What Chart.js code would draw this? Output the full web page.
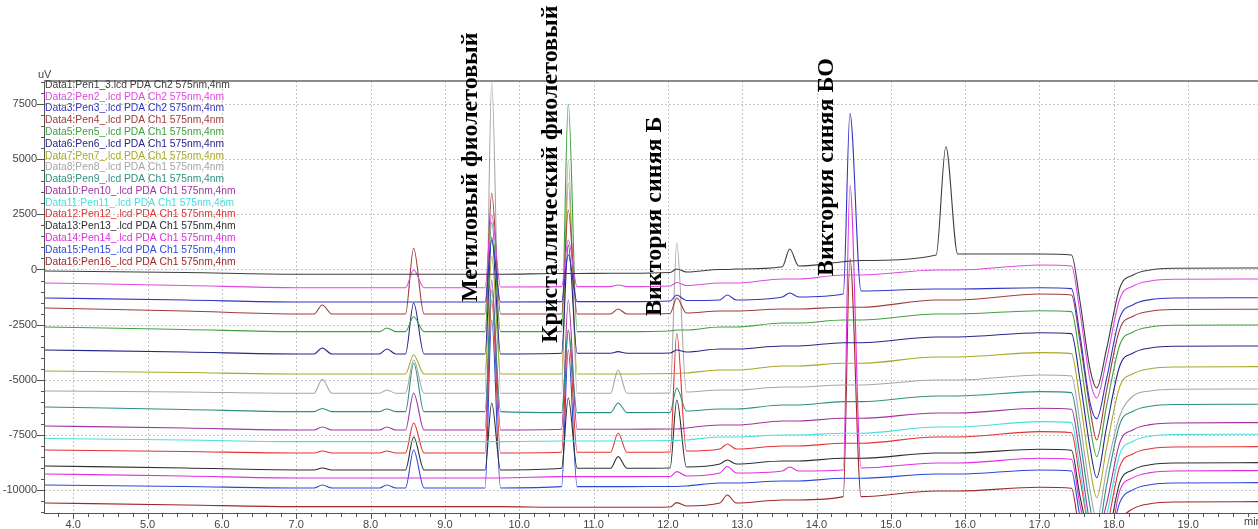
<!DOCTYPE html>
<html><head><meta charset="utf-8">
<script src="https://cdn.jsdelivr.net/npm/chart.js@4.4.0/dist/chart.umd.min.js"></script>
<style>html,body{margin:0;padding:0;background:#fff;overflow:hidden}canvas{display:block}</style>
</head><body>
<canvas id="c" width="1258" height="529"></canvas>
<script>
// retention time grid (min)
const times = [3.62,5.5,7.0,7.24,7.35,7.48,8.12,8.22,8.34,8.47,8.58,8.72,9.54,9.63,9.75,10.57,10.66,10.78,11.23,11.33,11.45,12.03,12.12,12.25,12.7,12.8,12.92,13.54,13.64,13.76,14.36,14.45,14.6,15.61,15.74,15.9,17.0,17.43,17.54,17.68,17.77,17.9,18.08,18.26,18.49,18.8,19.94];

// detector signal (uV), one array per trace
const trace1  = [-68,-136,-217,-217,-217,-217,-217,-217,-217,-217,-217,-217,-217,-217,-217,-181,-181,-181,-172,-172,-172,-136,23,-113,0,0,23,127,929,160,353,385,408,657,5564,702,702,657,-1337,-4508,-5369,-3647,-838,-249,-23,54,68];
const trace2  = [-612,-725,-825,-825,-825,-825,-825,-825,-825,-825,-23,-825,-825,2469,-793,-779,1337,-779,-779,-702,-779,-748,-589,-725,-612,-612,-612,-430,-430,-430,-249,-249,-249,-23,-23,-23,204,159,-1835,-5007,-5822,-4146,-1337,-748,-521,-444,-430];
const trace3  = [-1291,-1382,-1473,-1473,-1473,-1473,-1473,-1473,-1473,-1473,-1473,-1473,-1473,1337,-1473,-1459,657,-1459,-1459,-1459,-1459,-1427,-1155,-1405,-1382,-1155,-1382,-1246,-1065,-1246,-1110,7077,-974,-884,-884,-884,-825,-870,-2864,-6035,-6760,-4993,-2184,-1595,-1368,-1291,-1278];
const trace4  = [-1744,-1880,-2016,-2016,-1608,-2016,-2016,-2016,-2016,-2016,961,-2016,-2016,3466,-2016,-2016,2696,-2016,-2016,-1790,-2016,-1994,-1291,-1971,-1880,-1880,-1880,-1790,-1790,-1790,-1713,-1713,-1713,-1382,-1382,-1382,-1110,-1155,-3149,-6321,-7726,-5519,-2710,-2121,-1894,-1817,-1803];
const trace5  = [-2605,-2719,-2818,-2818,-2818,-2818,-2818,-2651,-2818,-2818,-2139,-2818,-2818,2152,-2818,-2818,7499,-2818,-2818,-2818,-2818,-2787,-2741,-2741,-2605,-2605,-2605,-2424,-2424,-2424,-2288,-2288,-2288,-2016,-2016,-2016,-1867,-1912,-3906,-7077,-8482,-6230,-3421,-2832,-2605,-2528,-2515];
const trace6  = [-3647,-3738,-3829,-3829,-3557,-3829,-3829,-3602,-3829,-3829,-1518,-3829,-3829,1473,-3829,-3797,1110,-3797,-3797,-3724,-3797,-3783,-3647,-3738,-3602,-3602,-3602,-3466,-3466,-3466,-3317,-3317,-3317,-3058,-3058,-3058,-2864,-2909,-4902,-8074,-9433,-7182,-4372,-3783,-3557,-3480,-3466];
const trace7  = [-4599,-4667,-4735,-4735,-4735,-4735,-4735,-4735,-4735,-4735,-3874,-4735,-4735,612,-4735,-4735,3919,-4735,-4735,-4735,-4735,-4712,-4712,-4690,-4554,-4554,-4554,-4372,-4372,-4372,-4250,-4250,-4250,-3965,-3965,-3965,-3770,-3815,-5809,-8980,-10340,-8120,-5310,-4721,-4495,-4418,-4404];
const trace8  = [-5505,-5550,-5609,-5609,-4975,-5609,-5609,-5460,-5609,-5609,-4101,-5609,-5609,8496,-5609,-5609,4961,-5609,-5609,-4554,-5609,-5596,1214,-5550,-5460,-5460,-5460,-5324,-5324,-5324,-5233,-5233,-5233,-5007,-5007,-5007,-4780,-4825,-6819,-9991,-11350,-9130,-6638,-5732,-5505,-5428,-5415];
const trace9  = [-6230,-6343,-6443,-6443,-6298,-6443,-6443,-6321,-6443,-6443,-4237,-6443,-6443,-929,-6443,-6488,-2741,-6488,-6488,-6049,-6488,-6479,-5369,-6411,-6321,-6321,-6321,-6140,-6140,-6140,-5990,-5990,-5990,-5732,-5732,-5732,-5537,-5582,-7576,-10748,-12107,-9823,-7014,-6425,-6198,-6121,-6108];
const trace10 = [-7091,-7182,-7272,-7272,-7136,-7272,-7272,-7136,-7272,-7272,-5596,-7272,-7272,-476,-7272,-7241,-1382,-7241,-7241,-7241,-7241,-7227,-7227,-7182,-7046,-7046,-7046,-6864,-6864,-6864,-6742,-6742,-6742,-6502,-6502,-6502,-6289,-6334,-8328,-11500,-12000,-10657,-7848,-7259,-7032,-6955,-6941];
const trace11 = [-7658,-7725,-7802,-7802,-7802,-7802,-7802,-7802,-7802,-7802,-7802,-7802,-7802,-7802,-7802,-7771,-7771,-7771,-7771,-7771,-7771,-7748,-7748,-7725,-7589,-7589,-7589,-7499,-7499,-7499,-7422,-7422,-7422,-7136,-7136,-7136,-6896,-6941,-8935,-12000,-12500,-11182,-8373,-7784,-7558,-7481,-7467];
const trace12 = [-8178,-8246,-8314,-8314,-8224,-8314,-8314,-8224,-8314,-8314,-6955,-8314,-8314,-1382,-8314,-8283,-2741,-8283,-8283,-7408,-8283,-8269,-2891,-8224,-8133,-7907,-8133,-7997,-7997,-7997,-7875,-7875,-7875,-7589,-7589,-7589,-7349,-7395,-9388,-12000,-12800,-11744,-8935,-8346,-8120,-8043,-8029];
const trace13 = [-8903,-8994,-9084,-9084,-8994,-9084,-9084,-9084,-9084,-9084,-7589,-9084,-9084,-6049,-9084,-9007,-5822,-9007,-9007,-8482,-9007,-8994,-5913,-8949,-8813,-8632,-8813,-8677,-8677,-8677,-8555,-8555,-8555,-8314,-8314,-8314,-8147,-8192,-10186,-12300,-12900,-12469,-9660,-9071,-8845,-8768,-8754];
const trace14 = [-9266,-9357,-9447,-9447,-9447,-9447,-9447,-9447,-9447,-9447,-9447,-9447,-9447,-9447,-9447,-9388,-9388,-9388,-9388,-9388,-9388,-9379,-9162,-9357,-9221,-8926,-9221,-9130,-8949,-9130,-9084,3829,-8994,-8767,-8767,-8767,-8555,-8600,-10593,-12500,-12900,-12832,-10023,-9433,-9207,-9130,-9116];
const trace15 = [-9764,-9832,-9900,-9900,-9764,-9900,-9900,-9764,-9900,-9900,-8178,-9900,-9900,-2288,-9900,-9841,-3647,-9841,-9841,-9841,-9841,-9832,-9832,-9810,-9674,-9674,-9674,-9583,-9583,-9583,-9461,-9461,-9461,-9266,-9266,-9266,-9084,-9130,-11124,-13000,-13400,-13000,-10566,-9977,-9751,-9674,-9660];
const trace16 = [-10580,-10670,-10748,-10748,-10748,-10748,-10748,-10748,-10748,-10748,-10748,-10748,-10748,-10748,-10748,-10775,-10775,-10775,-10775,-10775,-10775,-10761,-10566,-10716,-10580,-10217,-10580,-10444,-10444,-10444,-10294,476,-10294,-10036,-10036,-10036,-9869,-9914,-11900,-13200,-13600,-13300,-11427,-10838,-10612,-10535,-10521];

const traceColors = ['#3c3c3c','#e048e0','#3434c4','#a03c3c','#3fa03f','#26268a','#a8a826','#a6a6a6','#2f8f82','#a033a0','#48dede','#e23434','#2e2e2e','#e02ee0','#2a48dc','#a02828'];
const legendLabels = [
  'Data1:Pen1_3.lcd PDA Ch2 575nm,4nm',
  'Data2:Pen2_.lcd PDA Ch2 575nm,4nm',
  'Data3:Pen3_.lcd PDA Ch2 575nm,4nm',
  'Data4:Pen4_.lcd PDA Ch1 575nm,4nm',
  'Data5:Pen5_.lcd PDA Ch1 575nm,4nm',
  'Data6:Pen6_.lcd PDA Ch1 575nm,4nm',
  'Data7:Pen7_.lcd PDA Ch1 575nm,4nm',
  'Data8:Pen8_.lcd PDA Ch1 575nm,4nm',
  'Data9:Pen9_.lcd PDA Ch1 575nm,4nm',
  'Data10:Pen10_.lcd PDA Ch1 575nm,4nm',
  'Data11:Pen11_.lcd PDA Ch1 575nm,4nm',
  'Data12:Pen12_.lcd PDA Ch1 575nm,4nm',
  'Data13:Pen13_.lcd PDA Ch1 575nm,4nm',
  'Data14:Pen14_.lcd PDA Ch1 575nm,4nm',
  'Data15:Pen15_.lcd PDA Ch1 575nm,4nm',
  'Data16:Pen16_.lcd PDA Ch1 575nm,4nm'
];
const xTickValues = [4,5,6,7,8,9,10,11,12,13,14,15,16,17,18,19];
const yTickValues = [-10000,-7500,-5000,-2500,0,2500,5000,7500];
const peakLabels = ['Метиловый фиолетовый','Кристаллический фиолетовый','Виктория синяя Б','Виктория синяя БО'];
const peakLabelTimes = [9.43,10.51,11.91,14.22];
const peakLabelValues = [-1473,-3330,-2107,-295];

const traces = [trace1,trace2,trace3,trace4,trace5,trace6,trace7,trace8,trace9,trace10,trace11,trace12,trace13,trace14,trace15,trace16];

const FONT = '"Liberation Sans", Arial, sans-serif';
const overlay = {
  id: 'overlay',
  beforeDatasetsDraw(chart) {
    const {ctx, chartArea: a, scales: {x, y}} = chart;
    ctx.save();
    ctx.strokeStyle = '#c4c4c4';
    ctx.lineWidth = 1;
    ctx.setLineDash([2, 2]);
    xTickValues.forEach(v => {
      const px = Math.round(x.getPixelForValue(v)) + 0.5;
      ctx.beginPath(); ctx.moveTo(px, a.top); ctx.lineTo(px, a.bottom); ctx.stroke();
    });
    yTickValues.forEach(v => {
      const py = Math.round(y.getPixelForValue(v)) + 0.5;
      ctx.beginPath(); ctx.moveTo(a.left, py); ctx.lineTo(a.right, py); ctx.stroke();
    });
    ctx.restore();
  },
  afterDatasetsDraw(chart) {
    const {ctx, chartArea: a, scales: {x, y}} = chart;
    ctx.save();
    // axes
    ctx.strokeStyle = '#555';
    ctx.lineWidth = 1;
    ctx.beginPath();
    ctx.moveTo(a.left - 0.5, a.top); ctx.lineTo(a.left - 0.5, a.bottom);
    ctx.moveTo(a.left, a.bottom - 0.5); ctx.lineTo(a.right, a.bottom - 0.5);
    ctx.stroke();
    // top frame
    ctx.strokeStyle = '#8c8c8c';
    ctx.lineWidth = 2;
    ctx.beginPath(); ctx.moveTo(a.left - 1, a.top); ctx.lineTo(a.right, a.top); ctx.stroke();
    // x ticks
    ctx.strokeStyle = '#555';
    ctx.lineWidth = 1;
    ctx.beginPath();
    for (let k = 19; k <= 99; k++) {
      const v = k / 5;
      const px = Math.round(x.getPixelForValue(v)) + 0.5;
      const len = (k % 5 === 0) ? 5 : 3;
      ctx.moveTo(px, a.bottom); ctx.lineTo(px, a.bottom + len);
    }
    // y ticks
    for (let v = -11000; v <= 8500; v += 500) {
      const py = Math.round(y.getPixelForValue(v)) + 0.5;
      const len = (v % 2500 === 0) ? 7 : 3;
      ctx.moveTo(a.left - 1, py); ctx.lineTo(a.left - 1 - len, py);
    }
    ctx.stroke();
    // unit labels
    ctx.fillStyle = '#444';
    ctx.font = '11px ' + FONT;
    ctx.textBaseline = 'middle';
    ctx.textAlign = 'left';
    ctx.fillText('uV', 38, 75);
    ctx.fillText('min', 1244, 522);
    // legend
    ctx.font = '10.3px ' + FONT;
    legendLabels.forEach((t, i) => {
      ctx.fillStyle = traceColors[i];
      ctx.fillText(t, a.left, 85 + i * 11.78);
    });
    // peak names
    ctx.fillStyle = '#000';
    ctx.font = 'bold 24px "Liberation Serif", "Times New Roman", serif';
    ctx.textBaseline = 'alphabetic';
    peakLabels.forEach((t, i) => {
      const px = x.getPixelForValue(peakLabelTimes[i]);
      const py = y.getPixelForValue(peakLabelValues[i]);
      ctx.save();
      ctx.translate(px, py);
      ctx.rotate(-Math.PI / 2);
      ctx.fillText(t, 0, 0);
      ctx.restore();
    });
    ctx.restore();
  }
};

new Chart(document.getElementById('c'), {
  type: 'line',
  data: {
    datasets: traces.map((arr, i) => ({
      label: legendLabels[i],
      data: arr.map((v, j) => ({x: times[j], y: v})),
      borderColor: traceColors[i],
      borderWidth: 1.1,
      pointRadius: 0,
      fill: false,
      cubicInterpolationMode: 'monotone'
    }))
  },
  options: {
    responsive: false,
    animation: false,
    devicePixelRatio: 1,
    layout: {padding: {top: 81, left: 0, right: 0, bottom: 0}},
    plugins: {legend: {display: false}, tooltip: {enabled: false}},
    scales: {
      x: {
        type: 'linear', min: 3.62, max: 19.94,
        afterBuildTicks: s => { s.ticks = xTickValues.map(v => ({value: v})); },
        afterFit: s => { s.height = 15; },
        grid: {display: false, drawTicks: false},
        border: {display: false},
        ticks: {padding: 4, autoSkip: false, maxRotation: 0, color: '#444', font: {family: FONT, size: 11},
          callback: v => Number(v).toFixed(1)}
      },
      y: {
        type: 'linear', min: -11080, max: 8540,
        afterBuildTicks: s => { s.ticks = yTickValues.map(v => ({value: v})); },
        afterFit: s => { s.width = 45; },
        grid: {display: false, drawTicks: false},
        border: {display: false},
        ticks: {padding: 8, color: '#444', font: {family: FONT, size: 11}, callback: v => String(v)}
      }
    }
  },
  plugins: [overlay]
});
</script>
</body></html>
